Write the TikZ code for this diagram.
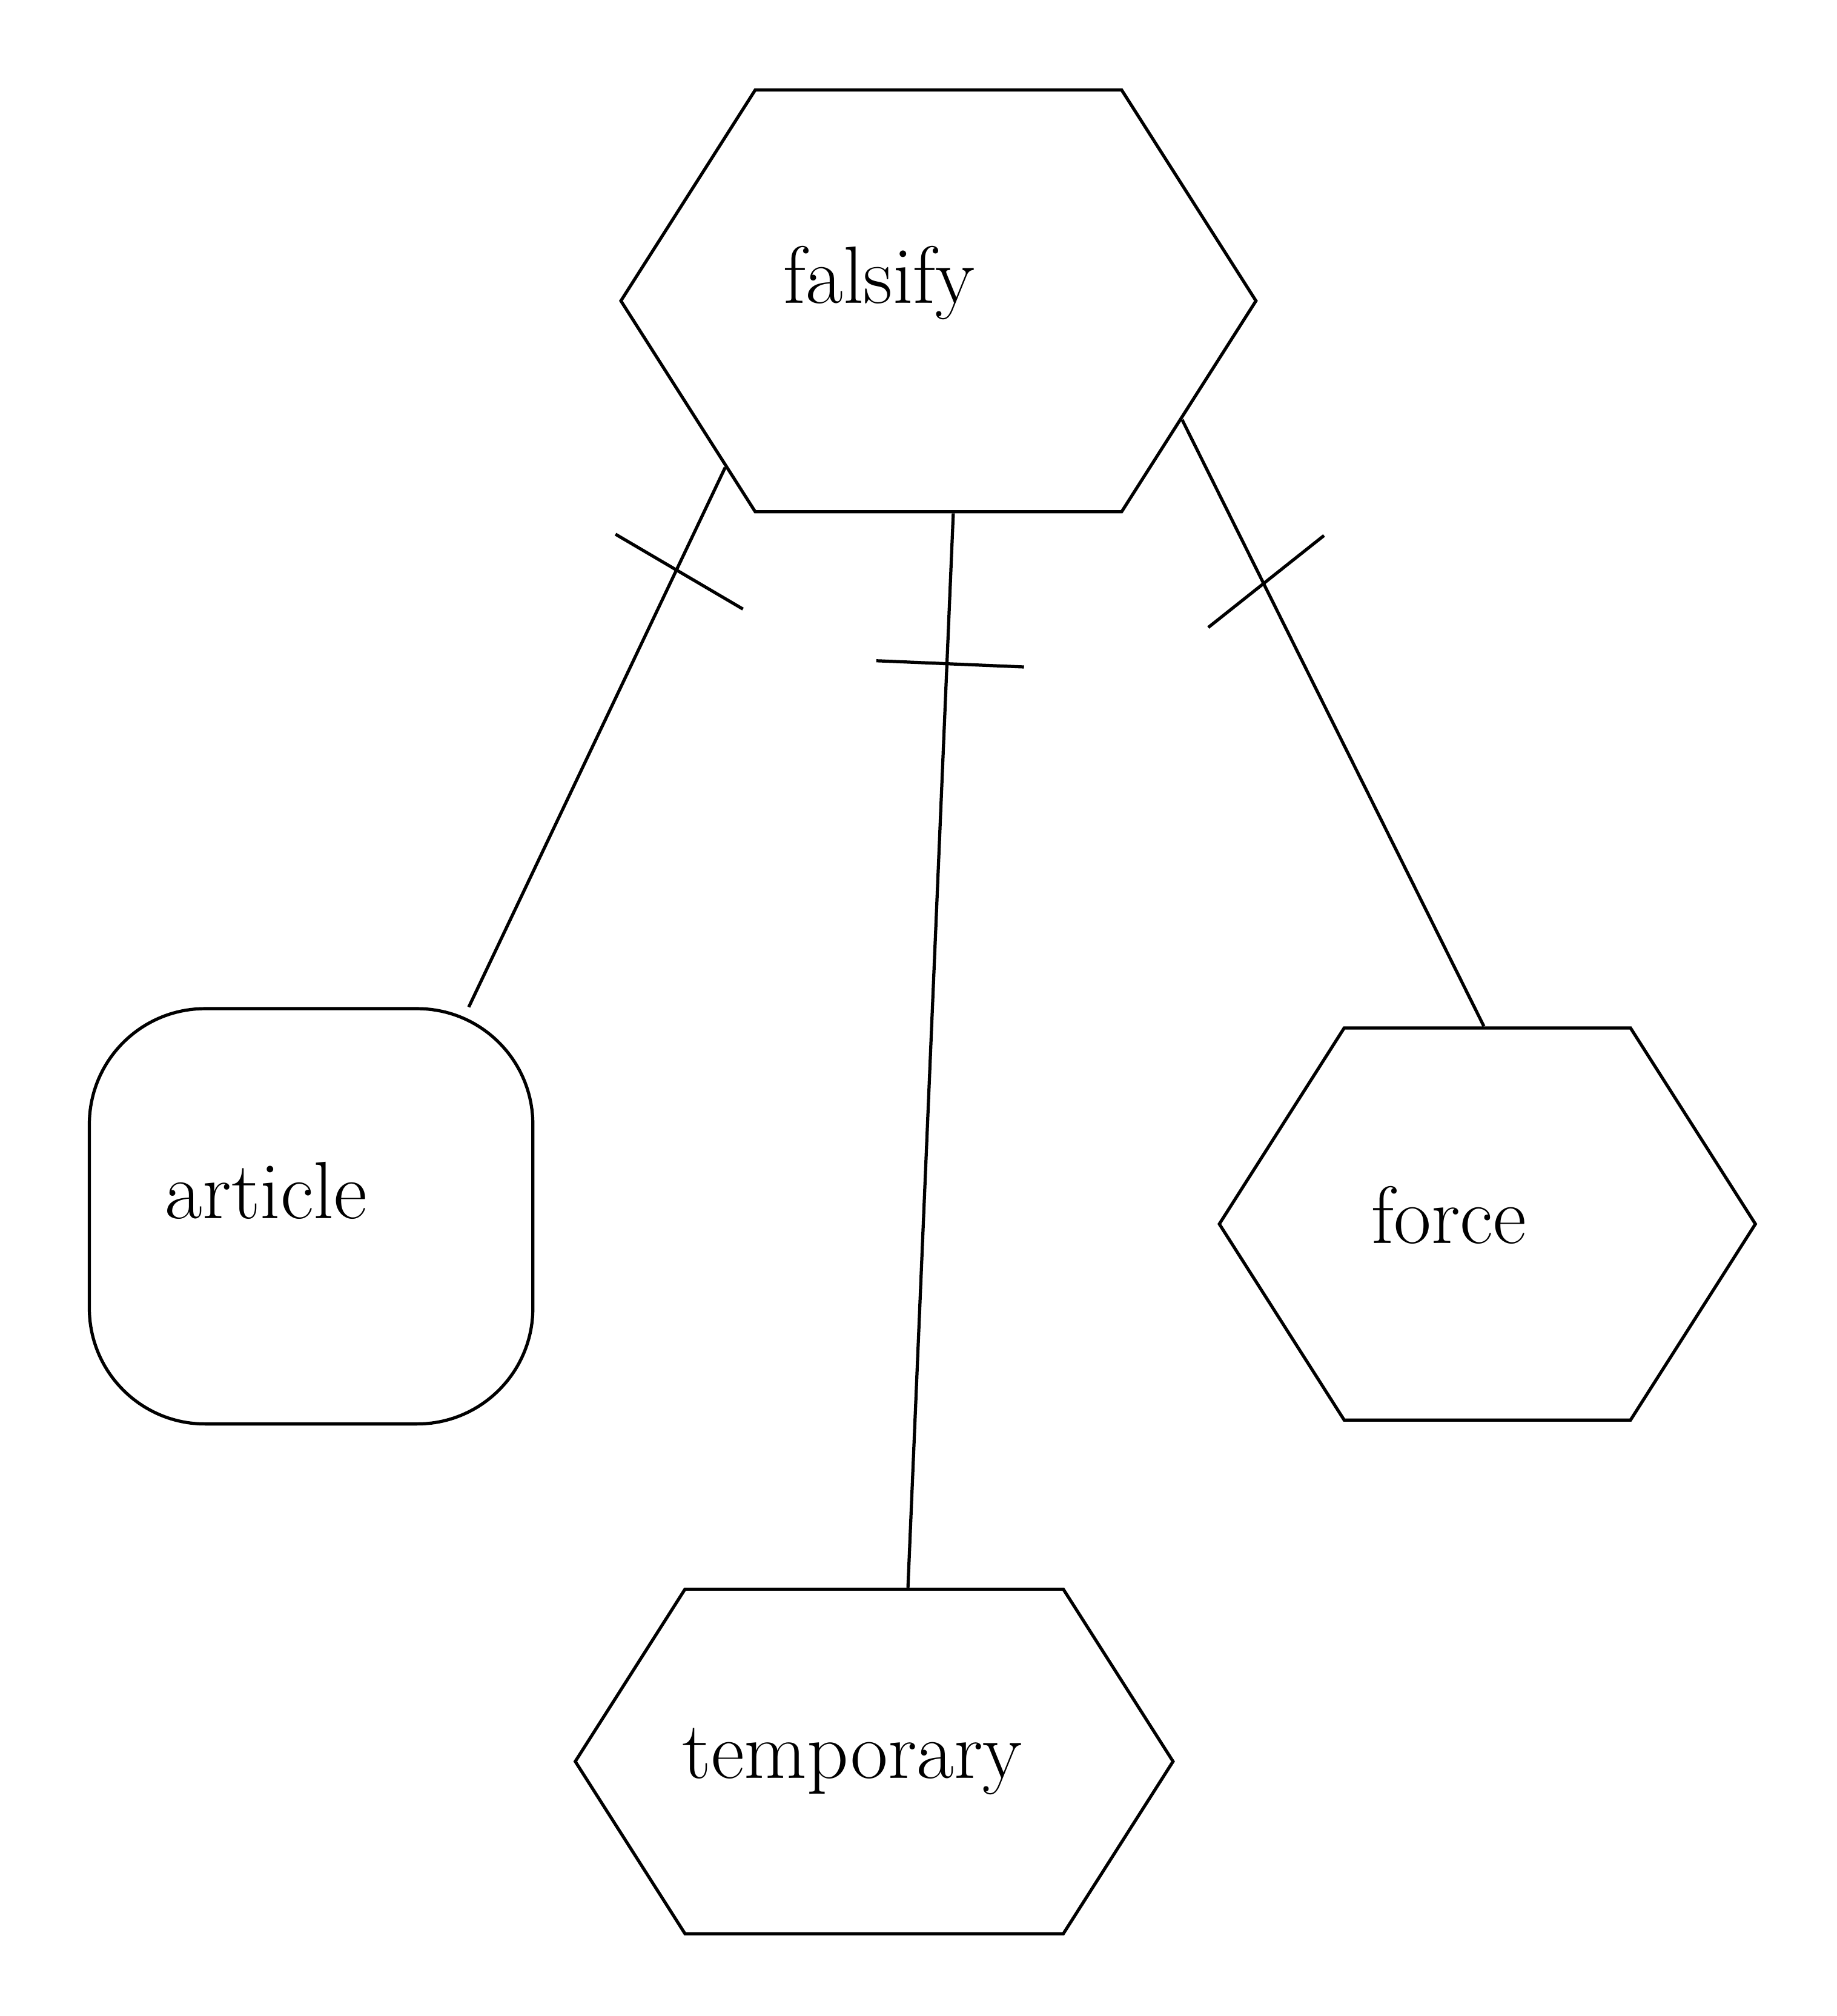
\documentclass[tikz,border=0pt]{standalone}
\usepackage{tikz}
\usetikzlibrary{shapes.symbols,decorations.markings}

\begin{document}
\begin{tikzpicture}[
    hexbox/.style={signal, signal to=west and east, signal pointer angle=115, draw, line width=0.7pt, inner sep=0pt},
    roundbox/.style={rectangle, draw, line width=0.7pt, rounded corners=0.9cm},
    word/.style={font=\fontsize{18}{22}\selectfont},
    link/.style={line width=0.7pt},
    onetick/.style 2 args={postaction={decorate}, decoration={markings, mark=at position #1 with {\draw[line width=0.7pt, rotate=#2] (0,-0.55) -- (0,0.6);}}}
]
    \useasboundingbox (0,0) rectangle (14.29,-15.68);

    % Entities
    \node[hexbox, minimum width=4.94cm, minimum height=3.28cm, label={[word, xshift=-4.6mm, yshift=1.4mm]center:falsify}] (falsify) at (7.30,-2.34) {};
    \node[roundbox, minimum width=3.45cm, minimum height=3.23cm, label={[word, xshift=-3.5mm, yshift=2mm]center:article}] (article) at (2.42,-9.46) {};
    \node[hexbox, minimum width=4.17cm, minimum height=3.05cm, label={[word, xshift=-3mm, yshift=0.7mm]center:force}] (force) at (11.57,-9.52) {};
    \node[hexbox, minimum width=4.65cm, minimum height=2.68cm, label={[word, xshift=-1.7mm]center:temporary}] (temporary) at (6.80,-13.70) {};

    % Links
    \draw[link, onetick={0.19}{-5}] (falsify.218) -- (article.53);
    \draw[link, onetick={0.14}{0}] (falsify.-86) -- (temporary.79);
    \draw[link, onetick={0.27}{12}] (falsify.-26) -- (force.91);

\end{tikzpicture}
\end{document}
